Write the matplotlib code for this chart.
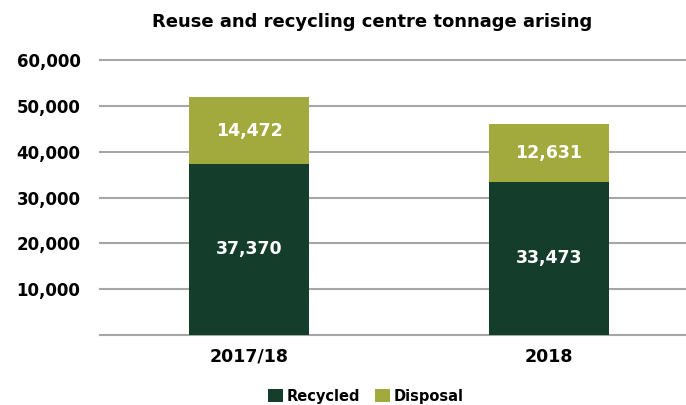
import matplotlib
matplotlib.use("Agg")
import matplotlib.pyplot as plt

categories = ["2017/18", "2018"]
recycled = [37370, 33473]
disposal = [14472, 12631]
yticks = [0, 10000, 20000, 30000, 40000, 50000, 60000]
ytick_labels = ["", "10,000", "20,000", "30,000", "40,000", "50,000", "60,000"]

c_rec = "#143D2B"
c_dis = "#A3AA3D"

plt.rcParams['font.family'] = ['DejaVu Sans']
fig = plt.figure(figsize=(6.86, 4.05), dpi=100)
ax = fig.add_axes([100/686, (405-335)/405, 586/686, 275/405])

x = list(range(len(categories)))
b1 = ax.bar(x, recycled, width=0.4, color=c_rec, label="Recycled", zorder=3)
b2 = ax.bar(x, disposal, width=0.4, bottom=recycled, color=c_dis, label="Disposal", zorder=3)

for i in x:
    ax.text(i, recycled[i] / 2, f"{recycled[i]:,}", ha="center", va="center",
            color="white", fontsize=12.5, fontweight="bold", zorder=4)
    ax.text(i, recycled[i] + disposal[i] / 2, f"{disposal[i]:,}", ha="center", va="center",
            color="white", fontsize=12.5, fontweight="bold", zorder=4)

ax.set_xlim(-149/300, 437/300)
ax.set_ylim(0, 60000)
ax.set_yticks(yticks)
ax.set_yticklabels(ytick_labels, fontsize=12, fontweight="bold")
ax.set_xticks(x)
ax.set_xticklabels(categories, fontsize=12.5, fontweight="bold")
ax.tick_params(axis="y", length=0, pad=14)
ax.tick_params(axis="x", length=0, pad=9)
ax.yaxis.grid(True, color="#A6A6A6", linewidth=1.5, zorder=0)
ax.set_axisbelow(True)
for s in ax.spines.values():
    s.set_visible(False)
for gl in ax.get_ygridlines():
    gl.set_clip_on(False)

fig.text(372/686, 1 - 22/405, "Reuse and recycling centre tonnage arising",
         ha="center", va="center", fontsize=13, fontweight="bold")

leg = fig.legend(handles=[b1, b2], labels=["Recycled", "Disposal"],
                 loc="center", bbox_to_anchor=(366/686, 1 - 396/405), ncol=2,
                 frameon=False, fontsize=10.5, handlelength=1.0, handleheight=1.0,
                 handletextpad=0.3, columnspacing=1.0)
for t in leg.get_texts():
    t.set_fontweight("bold")

fig.savefig("out.png", dpi=100)
